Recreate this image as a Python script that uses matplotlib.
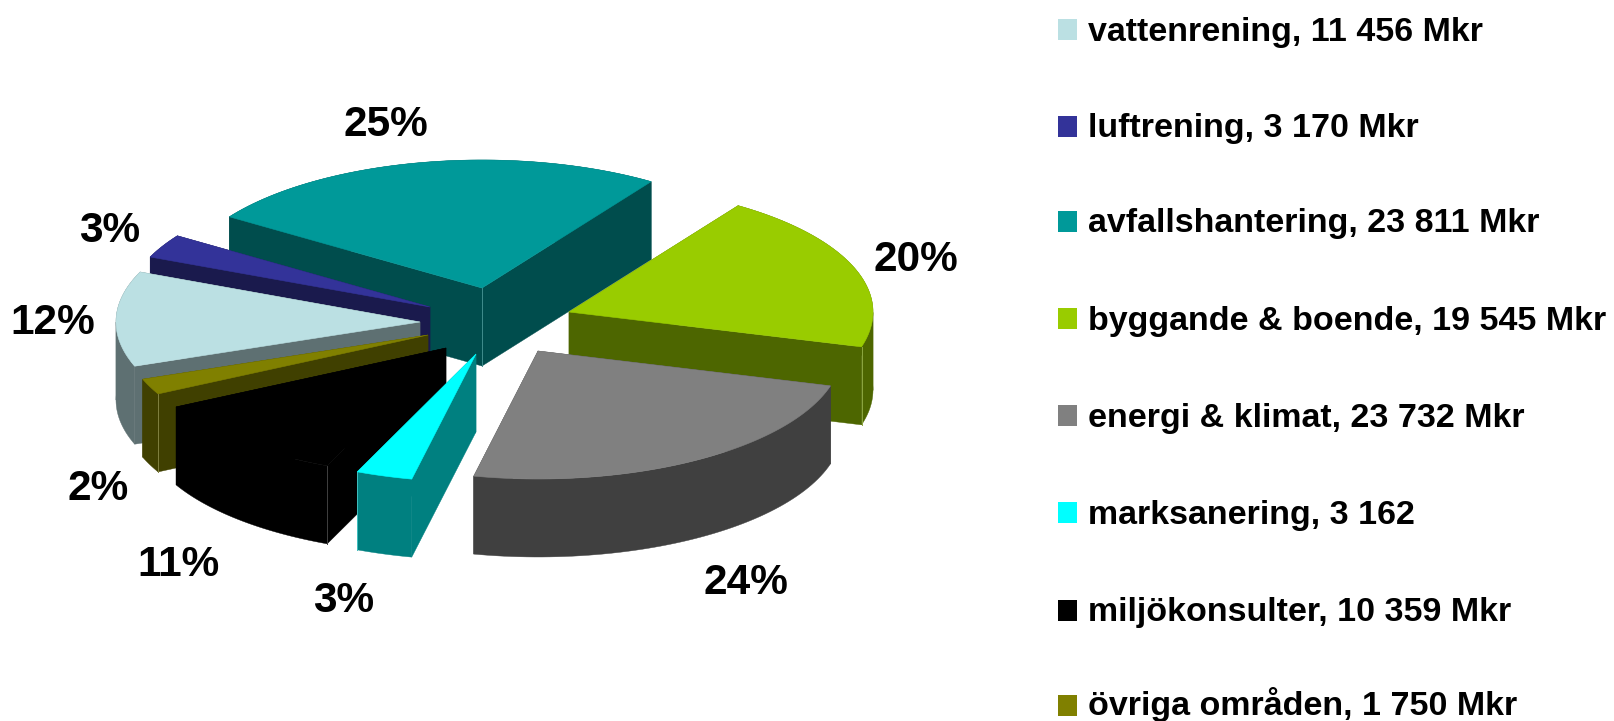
#!/usr/bin/env python3
# plot.py - exploded 3D-look pie with legend down the right side

import numpy as np
import matplotlib
matplotlib.use('Agg')
import matplotlib.pyplot as plt
from matplotlib.colors import to_rgb
from matplotlib.patches import Rectangle

plt.rcParams['font.family'] = ['Liberation Sans', 'DejaVu Sans']

# --- data ---
legend_labels = ['vattenrening, 11 456 Mkr', 'luftrening, 3 170 Mkr', 'avfallshantering, 23 811 Mkr',
                 'byggande & boende, 19 545 Mkr', 'energi & klimat, 23 732 Mkr', 'marksanering, 3 162',
                 'miljökonsulter, 10 359 Mkr', 'övriga områden, 1 750 Mkr']
percent = [12, 3, 25, 20, 24, 3, 11, 2]

# --- style ---
colors = ['#BBE0E3', '#333399', '#009999', '#99CC00', '#808080', '#00FFFF', '#000000', '#808000']
tips = [(420, 322), (430, 307), (482, 288), (569, 312), (538, 351), (476, 354), (446, 348), (428, 335)]  # exploded tip, px
label_pos = [(53, 323), (110, 231), (386, 125), (916, 260), (746, 583), (344, 601), (178, 565), (98, 489)]
corner = ['end', None, 'tip', 'end', None, 'end', 'start', 'start']  # which vertical edge shows a light line
draw_order = [2, 3, 1, 0, 7, 6, 5, 4]  # back to front
swatch_tops = [19, 116, 211, 308, 405, 502, 600, 695]
text_baselines = [40.5, 136.5, 232, 330, 427, 524, 621, 715]

rx, ry = 304, 128
depth = 78
start_angle = 200.2

fig = plt.figure(figsize=(16.14, 7.21), dpi=100)
ax = fig.add_axes([0, 0, 1, 1])
ax.set_xlim(0, 1614)
ax.set_ylim(721, 0)
ax.axis('off')

# clockwise from the start angle
ends = start_angle - np.cumsum(percent) * 3.6
starts = ends + np.array(percent) * 3.6

for z, i in enumerate(draw_order):
    tx, ty = tips[i]
    t = np.radians(np.linspace(starts[i], ends[i], 61))
    arc_x = tx + rx * np.cos(t)
    arc_y = ty - ry * np.sin(t)
    side = tuple(c * 0.5 for c in to_rgb(colors[i]))
    base = z * 3 + 1

    # two cut faces
    for x_end, y_end in [(arc_x[0], arc_y[0]), (arc_x[-1], arc_y[-1])]:
        ax.fill([tx, x_end, x_end, tx], [ty, y_end, y_end + depth, ty + depth],
                color=side, lw=0.3, zorder=base)

    # rim, split where the arc turns back in x so the polygon does not fold over itself
    turns = np.where(np.diff(np.sign(np.diff(arc_x))) != 0)[0] + 1
    cuts = [0, *turns.tolist(), len(arc_x) - 1]
    for a, b in zip(cuts[:-1], cuts[1:]):
        px = arc_x[a:b + 1]
        py = arc_y[a:b + 1]
        ax.fill(np.r_[px, px[::-1]], np.r_[py, py[::-1] + depth], color=side, lw=0.3, zorder=base)

    # top
    ax.fill(np.r_[tx, arc_x], np.r_[ty, arc_y], facecolor=colors[i], edgecolor=colors[i], lw=0.4, zorder=base + 2)

    if corner[i] is not None:
        cx, cy = {'tip': (tx, ty), 'start': (arc_x[0], arc_y[0]), 'end': (arc_x[-1], arc_y[-1])}[corner[i]]
        line_col = tuple(min(1, c * 0.5 + 0.25) for c in to_rgb(colors[i]))
        ax.plot([cx, cx], [cy, cy + depth], color=line_col, lw=0.7, zorder=base + 1)

for i, p in enumerate(percent):
    ax.text(label_pos[i][0], label_pos[i][1], f'{p}%', fontsize=30.5, fontweight='bold',
            ha='center', va='center', color='black', zorder=50)

for top, base_y, lab, col in zip(swatch_tops, text_baselines, legend_labels, colors):
    ax.add_patch(Rectangle((1058, top), 19, 21, facecolor=col, edgecolor='none'))
    ax.text(1088, base_y, lab, fontsize=24.5, fontweight='bold', ha='left', va='baseline', color='black')

fig.savefig('out.png', dpi=100, facecolor='white')
